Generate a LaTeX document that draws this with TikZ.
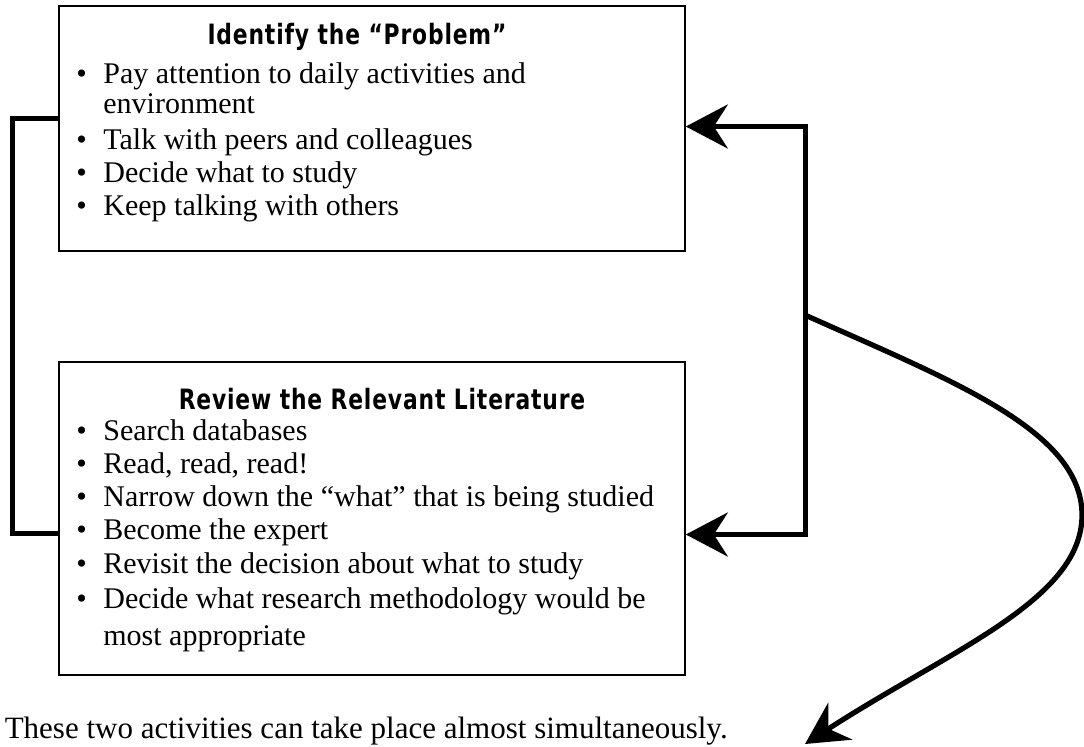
\documentclass[tikz,border=0pt]{standalone}
\usepackage{fontspec}
\setmainfont{Liberation Serif}
\newfontfamily\headfont[FakeStretch=0.78, LetterSpace=3]{DejaVu Sans}
\usetikzlibrary{arrows.meta, positioning, calc}

\newcommand{\bul}{\makebox[13.5pt][l]{\textbullet}}
\newcommand{\hang}{\hspace*{13.5pt}}

\begin{document}
\begin{tikzpicture}[
    x=0.5pt, y=-0.5pt,
    panel/.style={rectangle, draw=black, line width=0.8pt, minimum width=313pt, inner sep=0pt},
    head/.style={font=\headfont\bfseries\fontsize{14}{16}\selectfont, inner sep=0pt},
    items/.style={align=left, font=\fontsize{15}{16.5}\selectfont, inner sep=0pt, anchor=north west},
    link/.style={line width=2.6pt},
    arrow/.style={line width=2.6pt, -{Stealth[length=21pt, width=22pt, inset=7pt]}},
    twoway/.style={line width=2.6pt, {Stealth[length=21pt, width=22pt, inset=7pt]}-{Stealth[length=21pt, width=22pt, inset=7pt]}}
]
\useasboundingbox (0,0) rectangle (1084,746);

% Boxes
\node[panel, minimum height=122.5pt] (problem) at (372,128.5) {};
\node[panel, minimum height=156.5pt] (review) at (372,518.5) {};

% Titles
\node[head] (problem_title) at (357,37) {Identify the “Problem”};
\node[head] (review_title) at (382,399) {Review the Relevant Literature};

% Bullet lists
\node[items] (problem_list) at (76,62) {%
\bul Pay attention to daily activities and\\[-1.5pt]
\hang environment\\[1.5pt]
\bul Talk with peers and colleagues\\
\bul Decide what to study\\
\bul Keep talking with others};
\node[items] (review_list) at (76,419) {%
\bul Search databases\\
\bul Read, read, read!\\
\bul Narrow down the “what” that is being studied\\
\bul Become the expert\\[0.5pt]
\bul Revisit the decision about what to study\\[1pt]
\bul Decide what research methodology would be\\[2pt]
\hang most appropriate};

% Note
\node[font=\fontsize{15.5}{17}\selectfont, anchor=base east, inner sep=0pt] (note) at (728,738) {These two activities can take place almost simultaneously.};

% Connectors
\draw[link] ([yshift=5pt]problem.west) -- ++(-23pt,0) |- ([yshift=-7.5pt]review.west);
\draw[twoway] ([yshift=1pt]problem.east) -- ++(60pt,0) |- ([yshift=-8pt]review.east);
\coordinate (fork) at (805,315);
\coordinate (finish) at (805,744);
\draw[arrow] (fork) .. controls (950,380) and (1082,430) .. (1082,515)
    .. controls (1082,600) and (950,650) .. (finish);

\end{tikzpicture}
\end{document}
